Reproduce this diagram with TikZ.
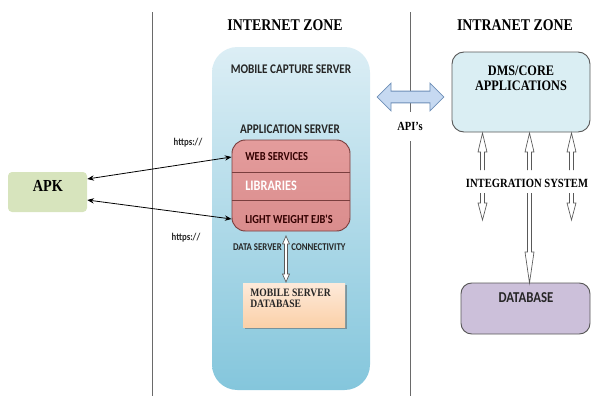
\documentclass[tikz,border=0pt]{standalone}
\usepackage{fontspec}
\setmainfont{Liberation Serif}
\newfontfamily\calfont{Carlito}
\usetikzlibrary{shapes.arrows,fit,calc,arrows.meta,shadows}
\newcommand\tall[1]{\scalebox{1}[1.18]{#1}}
% vertical hollow arrow: #1 x, #2 tail y, #3 tip y, #4 head base y, #5 head half-width, #6 shaft half-width
\newcommand\vharrow[6]{%
  \fill[white] (#1-#6,#2) -- (#1-#6,#4) -- (#1-#5,#4) -- (#1,#3) -- (#1+#5,#4) -- (#1+#6,#4) -- (#1+#6,#2) -- cycle;
  \draw[hollowline] (#1-#6,#2) -- (#1-#6,#4) -- (#1-#5,#4) -- (#1,#3) -- (#1+#5,#4) -- (#1+#6,#4) -- (#1+#6,#2);}
\definecolor{mcstop}{HTML}{DCEEF5}
\definecolor{mcsbot}{HTML}{84C6DC}
\definecolor{apptop}{HTML}{E49C9C}
\definecolor{appmid}{HTML}{F0BDBD}
\definecolor{appbot}{HTML}{DA8D8D}
\definecolor{appline}{HTML}{7A3E3E}
\definecolor{apkfill}{HTML}{D7E4BD}
\definecolor{dmsfill}{HTML}{DAEEF3}
\definecolor{dbfill}{HTML}{CCC0DA}
\definecolor{peachtop}{HTML}{FDEADA}
\definecolor{peachbot}{HTML}{FBD0A8}
\definecolor{apifill}{HTML}{C6D9F1}
\definecolor{apidraw}{HTML}{6D8FB8}
\definecolor{edge}{HTML}{595959}
\definecolor{zone}{HTML}{6A6A6A}
\begin{document}
\begin{tikzpicture}[x=0.75pt,y=-0.75pt,
  serifb/.style={font=\bfseries\fontsize{#1}{#1}\selectfont, inner sep=0pt},
  sansb/.style={font=\calfont\bfseries\fontsize{#1}{#1}\selectfont, inner sep=0pt},
  zoneline/.style={draw=zone, line width=0.6pt},
  hollowline/.style={draw=edge, line width=0.5pt, line join=miter},
  link/.style={{Stealth[length=5pt,width=4pt]}-{Stealth[length=5pt,width=4pt]}, line width=0.6pt}
]
\useasboundingbox (0,0) rectangle (593,396);

% zone separators
\draw[zoneline] (152,12) -- (152,396);
\draw[zoneline] (410,12) -- (410,112);
\draw[zoneline] (410,141) -- (410,396);

% zone titles
\node[serifb=10.4] (tint) at (285,25) {\tall{INTERNET ZONE}};
\node[serifb=10.4] (tintra) at (515,25) {\tall{INTRANET ZONE}};

% mobile capture server
\node[fit={(212,47) (370,390)}, inner sep=0pt, rounded corners=19pt,
      top color=mcstop, bottom color=mcsbot, draw=none] (mcs) {};
\node[sansb=8.4, text=black!85] (mcst) at (291,69) {\tall{MOBILE CAPTURE SERVER}};
\node[sansb=8.4, text=black!85] (appt) at (290,129) {\tall{APPLICATION SERVER}};

% application server
\node[fit={(232,140) (350,231)}, inner sep=0pt, rounded corners=10pt,
      top color=apptop, middle color=appmid, bottom color=appbot,
      draw=appline, line width=0.7pt] (app) {};
\coordinate (s1) at (0,172);
\coordinate (s2) at (0,200);
\draw[appline, line width=0.7pt] (app.west |- s1) -- (app.east |- s1);
\draw[appline, line width=0.7pt] (app.west |- s2) -- (app.east |- s2);
\node[sansb=7.8, text=black!80!red, anchor=west] (ws) at (245,157) {\tall{WEB SERVICES}};
\node[sansb=9.2, text=white, anchor=west] (lib) at (245,186) {\tall{LIBRARIES}};
\node[sansb=7.8, text=black!80!red, anchor=west] (ejb) at (245,219) {\tall{LIGHT WEIGHT EJB'S}};

\node[sansb=6.6, text=black!85, anchor=east] (dsl) at (282,247) {\tall{DATA SERVER}};
\node[sansb=6.6, text=black!85, anchor=west] (dsr) at (291,247) {\tall{CONNECTIVITY}};

% mobile server database
\node[fit={(243,283) (345,327)}, inner sep=0pt,
      top color=peachtop, bottom color=peachbot,
      drop shadow={shadow xshift=1.2pt, shadow yshift=-1.2pt, fill=black!65}] (mdb) {};
\node[serifb=7.2, align=left, anchor=north west, text=black!85] (mdbt) at (250,289) {\tall{MOBILE SERVER}\\[1pt]\tall{DATABASE}};

% data connectivity arrow (double-headed, hollow)
\fill[white] (286,236) -- (289.5,244) -- (287.5,244) -- (287.5,274) -- (289.5,274) -- (286,282)
   -- (282.5,274) -- (284.5,274) -- (284.5,244) -- (282.5,244) -- cycle;
\draw[hollowline] (286,236) -- (289.5,244) -- (287.5,244) -- (287.5,274) -- (289.5,274) -- (286,282)
   -- (282.5,274) -- (284.5,274) -- (284.5,244) -- (282.5,244) -- cycle;

% APK
\node[fit={(8,172) (87,212)}, inner sep=0pt, rounded corners=3pt, fill=apkfill] (apk) {};
\node[serifb=10.7] (apkt) at (48,186) {\tall{APK}};

% https links
\draw[link] ([yshift=9.75pt]apk.east) -- (app.west |- ws.west);
\draw[link] ([yshift=-6pt]apk.east) -- (app.west |- ejb.west);
\node[sansb=6.6, text=black!85] (h1) at (188,143) {\tall{https://}};
\node[sansb=6.6, text=black!85] (h2) at (186,238) {\tall{https://}};

% API's arrow
\node[double arrow, draw=apidraw, fill=apifill, line width=0.6pt, inner xsep=0pt, inner ysep=4.1pt,
      double arrow head extend=6pt, double arrow tip angle=90, minimum width=1pt,
      minimum height=50pt] (api) at (410.5,97) {};
\node[serifb=7.9] (apit) at (410,126) {\tall{API's}};

% DMS / core applications
\node[fit={(452,52) (590,132)}, inner sep=0pt, rounded corners=9pt, fill=dmsfill,
      draw=edge, line width=0.7pt] (dms) {};
\node[serifb=9.2, align=center] (dmst) at (521,78) {\tall{DMS/CORE}\\[2pt]\tall{APPLICATIONS}};

% database
\node[fit={(461,283) (590,334)}, inner sep=0pt, rounded corners=8pt, fill=dbfill,
      draw=edge, line width=0.7pt] (db) {};
\node[sansb=9.6, text=black!85] (dbt) at (526,298) {\tall{DATABASE}};

% integration system
\node[serifb=7.96] (integ) at (527,183) {\tall{INTEGRATION SYSTEM}};

% integration arrows (up to DMS, down from integration)
\vharrow{482.5}{170}{133}{152}{4.5}{2}
\vharrow{529.5}{170}{133}{152}{4.5}{2}
\vharrow{571.5}{170}{133}{152}{4.5}{2}
\vharrow{482.5}{193}{220}{203}{4.5}{2}
\vharrow{571.5}{193}{220}{203}{4.5}{2}
\vharrow{529.5}{193}{283}{252}{4.5}{2}

\end{tikzpicture}
\end{document}
